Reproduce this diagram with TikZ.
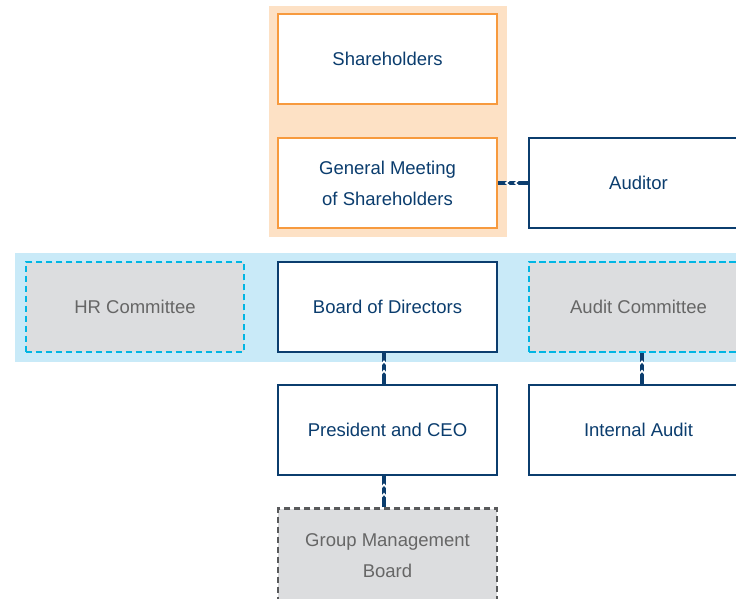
\documentclass[tikz,border=0pt]{standalone}
\usepackage{fontspec}
\setmainfont{Liberation Sans}
\usetikzlibrary{decorations.markings}

\definecolor{navy}{HTML}{0B3D6E}
\definecolor{peach}{HTML}{FDE1C5}
\definecolor{orangeline}{HTML}{F79A3E}
\definecolor{skyband}{HTML}{C9EAF8}
\definecolor{cyanline}{HTML}{00B5E3}
\definecolor{boxgray}{HTML}{DCDDDF}
\definecolor{dashgray}{HTML}{58595B}
\definecolor{textgray}{HTML}{666666}

\newcommand{\chev}{\draw[white, line width=1.6pt] (-2pt,-3pt) -- (1.5pt,0pt) -- (-2pt,3pt);}

\tikzset{
  orgbox/.style={draw, line width=2.4pt, minimum width=218.5pt, minimum height=89.5pt,
    inner sep=0pt, align=center, font=\fontsize{18.5}{31}\selectfont},
  ownerbox/.style={orgbox, draw=orangeline, fill=white, text=navy},
  mainbox/.style={orgbox, draw=navy, fill=white, text=navy},
  committeebox/.style={orgbox, draw=cyanline, fill=boxgray, text=textgray, dash pattern=on 6.5pt off 3.5pt},
  mgmtbox/.style={orgbox, draw=dashgray, fill=boxgray, text=textgray, dash pattern=on 6pt off 4pt},
  link/.style={draw=navy, line width=4.5pt, postaction={decorate},
    decoration={markings, mark=at position 0.38 with {\chev}, mark=at position 0.68 with {\chev}}},
}

\begin{document}
\begin{tikzpicture}[x=1pt, y=-1pt]

  \useasboundingbox (0,0) rectangle (736,598);
  \clip (0,0) rectangle (736,598);

  % bands
  \fill[peach] (269,6) rectangle (507,237);
  \fill[skyband] (15,253) rectangle (760,362);

  % owners
  \node[ownerbox] (share) at (387.5,59) {Shareholders};
  \node[ownerbox] (gm) at (387.5,183) {General Meeting\\of Shareholders};
  \node[mainbox] (auditor) at (638.5,183) {Auditor};

  % board level
  \node[committeebox] (hr) at (135,307) {HR Committee};
  \node[mainbox] (board) at (387.5,307) {Board of Directors};
  \node[committeebox] (ac) at (638.5,307) {Audit Committee};

  % management
  \node[mainbox] (ceo) at (387.5,430) {President and CEO};
  \node[mainbox] (ia) at (638.5,430) {Internal Audit};
  \node[mgmtbox, minimum height=95pt] (gmb) at (387.5,556) {Group Management\\Board};

  % connectors
  \draw[link] (auditor.west) -- (gm.east);
  \draw[link] ([xshift=-3.5pt]ceo.north) -- ([xshift=-3.5pt]board.south);
  \draw[link] ([xshift=3.5pt]ia.north) -- ([xshift=3.5pt]ac.south);
  \draw[link] ([xshift=-3.5pt]gmb.north) -- ([xshift=-3.5pt]ceo.south);

\end{tikzpicture}
\end{document}
